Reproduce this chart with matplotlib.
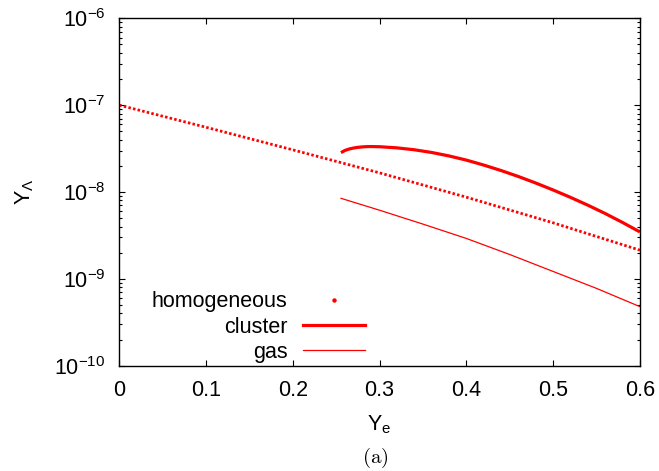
import matplotlib
matplotlib.use("Agg")
import matplotlib.pyplot as plt
from matplotlib.lines import Line2D
from matplotlib.ticker import LogLocator, MultipleLocator, NullLocator
import numpy as np

plt.rcParams['font.family'] = ['Liberation Sans', 'DejaVu Sans']
plt.rcParams['mathtext.fontset'] = 'custom'
plt.rcParams['mathtext.rm'] = 'Liberation Sans'
plt.rcParams['mathtext.it'] = 'Liberation Sans:italic'

# --- data (log10 of Y_Lambda) ---
homog_ye = [0.0, 0.1, 0.2, 0.3, 0.4, 0.5, 0.6]
homog_log = [-7.0, -7.255, -7.515, -7.78, -8.06, -8.355, -8.67]

cluster_ye = [0.2555, 0.26, 0.265, 0.27, 0.275, 0.28, 0.285, 0.29, 0.30, 0.32, 0.34,
              0.36, 0.38, 0.40, 0.42, 0.44, 0.46, 0.48, 0.50, 0.52, 0.54,
              0.56, 0.58, 0.60]
cluster_log = [-7.547, -7.522, -7.505, -7.494, -7.486, -7.481, -7.478, -7.477, -7.479,
               -7.492, -7.514, -7.545, -7.585, -7.633, -7.69, -7.753, -7.822,
               -7.897, -7.977, -8.062, -8.152, -8.248, -8.351, -8.46]

gas_ye = [0.2555, 0.30, 0.35, 0.40, 0.45, 0.50, 0.55, 0.60]
gas_log = [-8.073, -8.21, -8.37, -8.535, -8.72, -8.915, -9.11, -9.32]

red = '#ff0000'
fs = 15.5

fig = plt.figure(figsize=(6.59, 4.71), dpi=100)
ax = fig.add_axes([0.181, 0.2236, 0.790, 0.7376])

ax.plot(homog_ye, 10.0 ** np.array(homog_log), color=red, lw=2.0,
        linestyle=(0, (0.9, 0.8)), dash_capstyle='butt')
ax.plot(cluster_ye, 10.0 ** np.array(cluster_log), color=red, lw=2.3,
        solid_capstyle='butt')
ax.plot(gas_ye, 10.0 ** np.array(gas_log), color=red, lw=0.9)

ax.set_yscale('log')
ax.set_xlim(0, 0.6)
ax.set_ylim(1e-10, 1e-6)
ax.xaxis.set_major_locator(MultipleLocator(0.1))
ax.xaxis.set_minor_locator(NullLocator())
ax.yaxis.set_major_locator(LogLocator(base=10, numticks=10))
ax.yaxis.set_minor_locator(LogLocator(base=10, subs=np.arange(2, 10), numticks=10))
ax.xaxis.set_major_formatter(plt.FuncFormatter(lambda v, p: '0' if abs(v) < 1e-9 else f'{v:.1f}'))

ax.tick_params(which='both', direction='in', top=True, right=True, width=0.8,
               labelsize=fs)
ax.tick_params(which='major', length=4.5, pad=10)
ax.tick_params(which='minor', length=2.5)
for s in ax.spines.values():
    s.set_linewidth(1.0)

ax.set_xlabel(r'$\mathregular{Y_e}$', fontsize=fs, labelpad=9)
ax.set_ylabel(r'$\mathregular{Y_\Lambda}$', fontsize=fs, labelpad=13)
fig.text(0.569, 0.018, r'$\mathrm{(a)}$', fontsize=15, ha='center',
         math_fontfamily='cm')

handles = [Line2D([], [], color=red, marker='o', markersize=2.2, linestyle='none'),
           Line2D([], [], color=red, lw=2.3),
           Line2D([], [], color=red, lw=0.9)]
ax.legend(handles, ['homogeneous', 'cluster', 'gas'], loc='lower right',
          bbox_to_anchor=(0.472, 0.008), frameon=False, markerfirst=False,
          fontsize=fs, handlelength=2.9, handletextpad=0.7, labelspacing=0.2,
          borderpad=0, borderaxespad=0)

fig.savefig('out.png', dpi=100)
